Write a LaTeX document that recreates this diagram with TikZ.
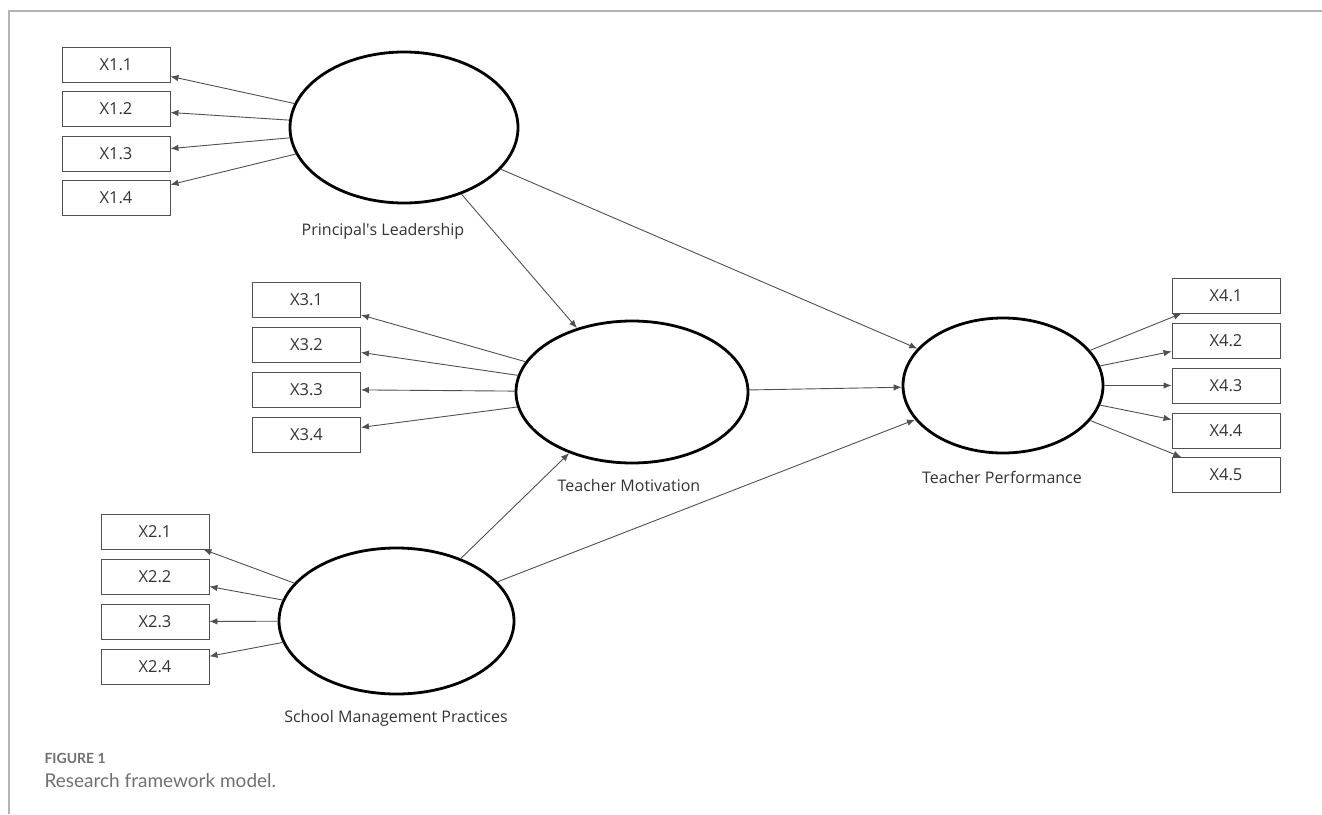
\documentclass[tikz,border=0pt]{standalone}
\usepackage{fontspec}
\setmainfont{Open Sans}
\newfontfamily\capfont{Lato}
\usetikzlibrary{shapes.geometric,arrows.meta}
\definecolor{framegray}{HTML}{B4B4B4}
\definecolor{linegray}{HTML}{505050}
\definecolor{textgray}{HTML}{333333}
\definecolor{captiongray}{HTML}{707070}

\begin{document}
\begin{tikzpicture}[x=1pt,y=-1pt]
      \useasboundingbox (0,0) rectangle (1322,814);
      \draw[framegray,line width=1.5pt] (9,814) -- (9,11) -- (1322,11);

      \begin{scope}[every node/.style={ellipse,draw,line width=2.8pt,inner sep=0pt}]
        \node[minimum width=228,minimum height=151] (pl)  at (404,127.5) {};
        \node[minimum width=232,minimum height=142] (tm)  at (632,392)   {};
        \node[minimum width=235,minimum height=146] (smp) at (396.5,621) {};
        \node[minimum width=200,minimum height=135] (tp)  at (1003,385.5) {};
      \end{scope}

      \begin{scope}[every node/.style={draw=linegray,line width=0.9pt,minimum width=108,minimum height=35,inner sep=0pt,text=textgray,font=\fontsize{16.5}{19}\selectfont}]
        \node (x11) at (116,64.5)  {X1.1};
        \node (x12) at (116,109)   {X1.2};
        \node (x13) at (116,153.5) {X1.3};
        \node (x14) at (116,198)   {X1.4};
        \node (x21) at (155,531.5) {X2.1};
        \node (x22) at (155,576.5) {X2.2};
        \node (x23) at (155,621.5) {X2.3};
        \node (x24) at (155,666.5) {X2.4};
        \node (x31) at (306.5,299.5) {X3.1};
        \node (x32) at (306.5,344.5) {X3.2};
        \node (x33) at (306.5,389.5) {X3.3};
        \node (x34) at (306.5,434.5) {X3.4};
        \node (x41) at (1226,295.5) {X4.1};
        \node (x42) at (1226,340.5) {X4.2};
        \node (x43) at (1226,385.5) {X4.3};
        \node (x44) at (1226,430.5) {X4.4};
        \node (x45) at (1226,475)   {X4.5};
      \end{scope}

      \begin{scope}[every node/.style={text=textgray,font=\fontsize{16}{19}\selectfont}]
        \node (plname)  at (383,231)  {Principal\textquotesingle s Leadership};
        \node (tmname)  at (629,485)  {Teacher Motivation};
        \node (tpname)  at (1002,477) {Teacher Performance};
        \node (smpname) at (396,718)  {School Management Practices};
      \end{scope}

      \node[anchor=west,text=captiongray,font=\capfont\bfseries\fontsize{14}{16}\selectfont] (fignum) at (41,758) {FIGURE 1};
      \node[anchor=west,text=captiongray,font=\capfont\fontsize{19}{22}\selectfont] (figtext) at (41,781) {Research framework model.};

      \begin{scope}[every edge/.style={draw=linegray,line width=0.9pt,-{Latex[length=8pt,width=6.5pt]}}]
        \path (pl)  edge (x11);
        \path (pl)  edge (x12);
        \path (pl)  edge (x13);
        \path (pl)  edge (x14);
        \path (smp) edge (x21);
        \path (smp) edge (x22);
        \path (smp) edge (x23);
        \path (smp) edge (x24);
        \path (tm)  edge (x31);
        \path (tm)  edge (x32);
        \path (tm)  edge (x33);
        \path (tm)  edge (x34);
        \path (tp)  edge (x41);
        \path (tp)  edge (x42);
        \path (tp)  edge (x43);
        \path (tp)  edge (x44);
        \path (tp)  edge (x45);
        \path (pl)  edge (tm);
        \path (pl)  edge (tp);
        \path (tm)  edge (tp);
        \path (smp) edge (tm);
        \path (smp) edge (tp);
      \end{scope}

    \end{tikzpicture}
\end{document}
